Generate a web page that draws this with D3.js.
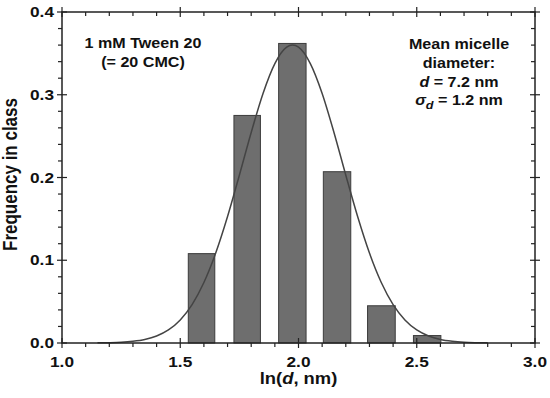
<!DOCTYPE html>
<html><head><meta charset="utf-8">
<script src="https://cdn.jsdelivr.net/npm/d3@7"></script>
<style>
html,body{margin:0;padding:0;background:#fff;}
svg{display:block;}
text{font-family:"Liberation Sans",Arial,sans-serif;font-weight:bold;fill:#111;}
</style></head>
<body>
<svg id="chart" width="550" height="398"></svg>
<script>
// ---- data ----
const binLow  = [1.534, 1.727, 1.916, 2.105, 2.292, 2.486];
const binHigh = [1.646, 1.839, 2.032, 2.221, 2.409, 2.602];
const frequency = [0.108, 0.275, 0.362, 0.207, 0.045, 0.009];

const curveX = [1.15,1.2,1.25,1.3,1.35,1.4,1.45,1.5,1.55,1.6,1.65,1.7,1.75,1.8,1.85,1.9,1.95,1.975,2.0,2.05,2.1,2.15,2.2,2.25,2.3,2.35,2.4,2.45,2.5,2.55,2.6,2.65,2.7,2.75,2.8];
const curveY = [0.0002,0.0004,0.0009,0.0021,0.0043,0.0085,0.0158,0.0279,0.0464,0.0731,0.1087,0.1528,0.2028,0.2544,0.3016,0.3377,0.3575,0.360,0.3575,0.3377,0.3016,0.2544,0.2028,0.1528,0.1087,0.0731,0.0464,0.0279,0.0158,0.0085,0.0043,0.0021,0.0009,0.0004,0.0002];

const xMajor = [1.0, 1.5, 2.0, 2.5, 3.0];
const xMajorLabels = ["1.0", "1.5", "2.0", "2.5", "3.0"];
const yMajor = [0.0, 0.1, 0.2, 0.3, 0.4];
const yMajorLabels = ["0.0", "0.1", "0.2", "0.3", "0.4"];
const xMinorStep = 0.1;
const yMinorStep = 0.02;

// ---- layout ----
const L = 62, R = 535, T = 12, B = 343;
const SX = 1.15; // horizontal text stretch
const svg = d3.select("#chart");
const x = d3.scaleLinear().domain([1.0, 3.0]).range([L, R]);
const y = d3.scaleLinear().domain([0, 0.4]).range([B, T]);

const xMinor = d3.range(1.0, 3.0001, xMinorStep).filter(v => !xMajor.some(m => Math.abs(m - v) < 1e-6));
const yMinor = d3.range(0, 0.4001, yMinorStep).filter(v => !yMajor.some(m => Math.abs(m - v) < 1e-6));

function stext(g, px, py, str, size, anchor) {
  const t = g.append("text")
    .attr("transform", `translate(${px},${py}) scale(${SX},1)`)
    .attr("font-size", size)
    .attr("text-anchor", anchor || "middle");
  if (typeof str === "string") t.text(str);
  return t;
}

// bars
svg.append("g").selectAll("rect").data(frequency).join("rect")
  .attr("x", (d, i) => x(binLow[i]))
  .attr("width", (d, i) => x(binHigh[i]) - x(binLow[i]))
  .attr("y", d => y(d))
  .attr("height", d => y(0) - y(d))
  .attr("fill", "#6e6e6e")
  .attr("stroke", "#3c3c3c")
  .attr("stroke-width", 1);

// curve
const pts = curveX.map((v, i) => [v, curveY[i]]);
svg.append("path")
  .attr("d", d3.line().x(d => x(d[0])).y(d => y(d[1])).curve(d3.curveMonotoneX)(pts))
  .attr("fill", "none")
  .attr("stroke", "#444")
  .attr("stroke-width", 1.5);

// frame
const ax = svg.append("g").attr("stroke", "#222").attr("stroke-width", 1.5);
ax.append("rect").attr("x", L).attr("y", T).attr("width", R - L).attr("height", B - T).attr("fill", "none");

// ticks
const tk = svg.append("g").attr("stroke", "#222").attr("stroke-width", 1.2);
xMajor.forEach(v => {
  tk.append("line").attr("x1", x(v)).attr("x2", x(v)).attr("y1", B - 5).attr("y2", B + 5);
  tk.append("line").attr("x1", x(v)).attr("x2", x(v)).attr("y1", T - 5).attr("y2", T + 5);
});
xMinor.forEach(v => {
  tk.append("line").attr("x1", x(v)).attr("x2", x(v)).attr("y1", B).attr("y2", B + 4);
  tk.append("line").attr("x1", x(v)).attr("x2", x(v)).attr("y1", T).attr("y2", T + 4);
});
yMajor.forEach(v => {
  tk.append("line").attr("y1", y(v)).attr("y2", y(v)).attr("x1", L - 5).attr("x2", L + 5);
  tk.append("line").attr("y1", y(v)).attr("y2", y(v)).attr("x1", R - 5).attr("x2", R + 5);
});
yMinor.forEach(v => {
  tk.append("line").attr("y1", y(v)).attr("y2", y(v)).attr("x1", L - 4).attr("x2", L);
  tk.append("line").attr("y1", y(v)).attr("y2", y(v)).attr("x1", R - 4).attr("x2", R);
});

// tick labels
const lab = svg.append("g");
xMajor.forEach((v, i) => stext(lab, x(v), B + 24, xMajorLabels[i], 15, "middle"));
yMajor.forEach((v, i) => stext(lab, L - 8, y(v) + 5, yMajorLabels[i], 15, "end"));

// axis titles
const xt = stext(lab, (L + R) / 2, 384, null, 16, "middle");
xt.append("tspan").text("ln(");
xt.append("tspan").attr("font-style", "italic").text("d");
xt.append("tspan").text(", nm)");

lab.append("text")
  .attr("transform", `translate(17,${(T + B) / 2 - 3}) rotate(-90) scale(1,${SX})`)
  .attr("font-size", 17).attr("text-anchor", "middle")
  .text("Frequency in class");

// annotations
stext(lab, 143, 48, "1 mM Tween 20", 14, "middle");
stext(lab, 143, 67, "(= 20 CMC)", 14, "middle");

stext(lab, 459, 49, "Mean micelle", 14, "middle");
stext(lab, 459, 68, "diameter:", 14, "middle");
const t3 = stext(lab, 459, 87, null, 14, "middle");
t3.append("tspan").attr("font-style", "italic").text("d");
t3.append("tspan").text(" = 7.2 nm");
const t4 = stext(lab, 459, 105, null, 14, "middle");
t4.append("tspan").attr("font-style", "italic").text("σ");
t4.append("tspan").attr("font-style", "italic").attr("font-size", 11).attr("dy", 4).text("d");
t4.append("tspan").attr("dy", -4).text(" = 1.2 nm");
</script>
</body></html>
